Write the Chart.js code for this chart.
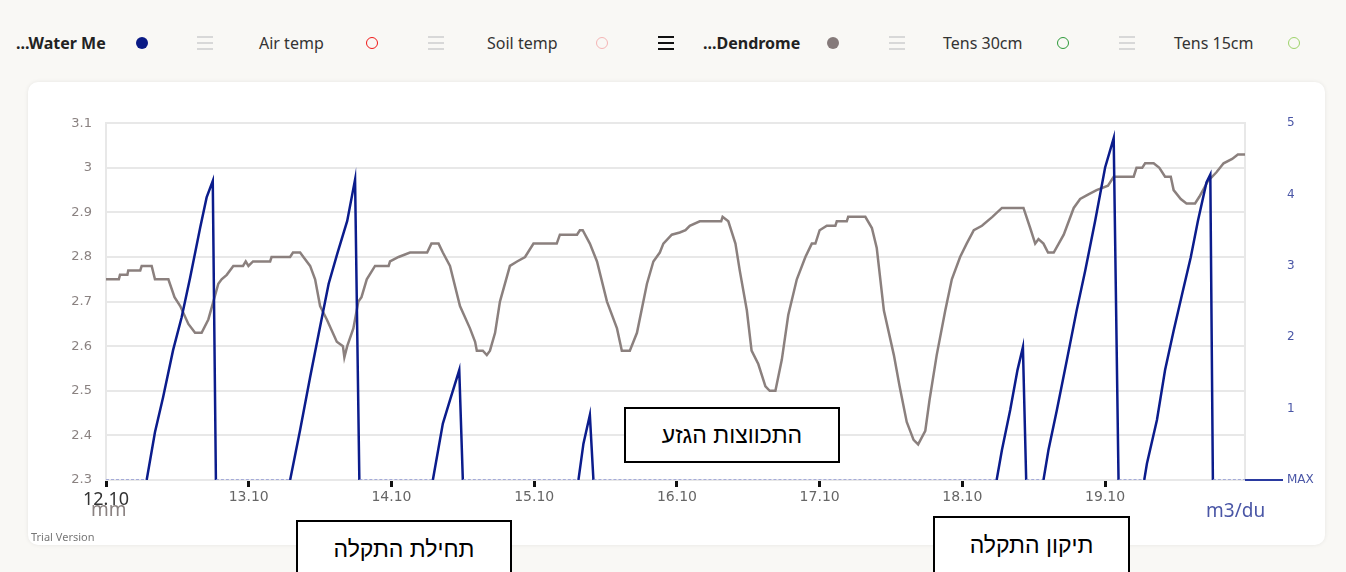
<!DOCTYPE html>
<html>
<head>
<meta charset="utf-8">
<script src="https://cdn.jsdelivr.net/npm/chart.js@4"></script>
<style>
  html, body { margin: 0; padding: 0; }
  body { width: 1346px; height: 572px; background: #f9f8f5; position: relative; overflow: hidden; font-family: "Noto Sans", sans-serif; }
  .lg { position: absolute; top: 31px; font-size: 16px; color: #333; white-space: nowrap; line-height: 24px; }
  .lg.b { font-weight: bold; color: #222; }
  .dot { position: absolute; width: 12px; height: 12px; border-radius: 50%; top: 37px; box-sizing: border-box; }
  .burger { position: absolute; top: 36px; width: 16px; height: 14px; }
  .burger i { display: block; height: 2px; margin-bottom: 4px; background: #d8d8d8; }
  .burger.dark i { background: #111; }
  .card { position: absolute; left: 28px; top: 82px; width: 1297px; height: 463px; background: #fff; border-radius: 10px; box-shadow: 0 0 4px rgba(0,0,0,0.08); }
  #chart { position: absolute; left: 28px; top: 74px; }
  .axis-t { position: absolute; font-size: 19px; }
  .trial { position: absolute; left: 31px; top: 529px; font-size: 11px; color: #777; }
  .note { position: absolute; background: #fff; border: 2px solid #000; box-sizing: border-box; font-family: "Liberation Sans", sans-serif; font-size: 23px; color: #000; text-align: center; direction: rtl; }
</style>
</head>
<body>

<div class="lg b" style="left:16px">...Water Me</div>
<div class="dot" style="left:136px; background:#0a1a85"></div>
<div class="burger" style="left:197px"><i></i><i></i><i></i></div>
<div class="lg" style="left:259px">Air temp</div>
<div class="dot" style="left:366px; border:1.5px solid #f01818"></div>
<div class="burger" style="left:428px"><i></i><i></i><i></i></div>
<div class="lg" style="left:487px">Soil temp</div>
<div class="dot" style="left:596px; border:1.5px solid #f5b5b5"></div>
<div class="burger dark" style="left:658px"><i></i><i></i><i></i></div>
<div class="lg b" style="left:703px">...Dendrome</div>
<div class="dot" style="left:827px; background:#857a7a"></div>
<div class="burger" style="left:889px"><i></i><i></i><i></i></div>
<div class="lg" style="left:943px">Tens 30cm</div>
<div class="dot" style="left:1057px; border:1.5px solid #2e9a3a"></div>
<div class="burger" style="left:1119px"><i></i><i></i><i></i></div>
<div class="lg" style="left:1174px">Tens 15cm</div>
<div class="dot" style="left:1288px; border:1.5px solid #9ed36a"></div>

<div class="card"></div>
<canvas id="chart" width="1297" height="471"></canvas>

<div class="axis-t" style="left:91px; top:496px; color:#8a8281">mm</div>
<div class="axis-t" style="left:1206px; top:497px; color:#4a56a6">m3/du</div>
<div class="trial">Trial Version</div>

<div class="note" style="left:624px; top:407px; width:216px; height:56px; line-height:52px">התכווצות הגזע</div>
<div class="note" style="left:296px; top:520px; width:216px; height:70px; padding-top:14px">תחילת התקלה</div>
<div class="note" style="left:933px; top:516px; width:197px; height:70px; padding-top:14px">תיקון התקלה</div>

<script>
// tick labels for the day axis (x = days since 12.10)
const dayLabels = ['12.10', '13.10', '14.10', '15.10', '16.10', '17.10', '18.10', '19.10'];

// Water meter (m3/du, right axis)
const waterX = [0, 0.285, 0.343, 0.40, 0.47, 0.53, 0.59, 0.66, 0.705, 0.748,
    0.77, 1.29, 1.36, 1.43, 1.49, 1.56, 1.62, 1.69, 1.745, 1.775,
    2.29, 2.36, 2.41, 2.475, 2.50, 3.31, 3.345, 3.39, 3.415, 6.24,
    6.277, 6.335, 6.386, 6.424, 6.447, 6.568, 6.603, 6.662, 6.732, 6.80,
    6.86, 6.93, 7.0, 7.06, 7.094, 7.274, 7.293, 7.363, 7.42, 7.48,
    7.54, 7.60, 7.65, 7.71, 7.737, 7.755, 7.98];
const waterY = [0, 0, 0.67, 1.16, 1.82, 2.28, 2.84, 3.54, 3.96, 4.19,
    0, 0, 0.70, 1.44, 2.05, 2.75, 3.17, 3.63, 4.21, 0,
    0, 0.79, 1.12, 1.54, 0, 0, 0.51, 0.91, 0, 0,
    0.42, 0.98, 1.54, 1.86, 0, 0, 0.42, 0.98, 1.68, 2.37,
    2.93, 3.63, 4.38, 4.79, 0, 0, 0.23, 0.84, 1.54, 2.09,
    2.61, 3.12, 3.63, 4.17, 4.28, 0, 0];

// Dendrometer (mm, left axis)
const dendX = [0, 0.09, 0.098, 0.15, 0.156, 0.24, 0.25, 0.32, 0.343, 0.437,
    0.48, 0.52, 0.577, 0.624, 0.67, 0.717, 0.752, 0.787, 0.81, 0.846,
    0.892, 0.96, 0.979, 0.998, 1.03, 1.15, 1.16, 1.29, 1.31, 1.36,
    1.383, 1.43, 1.465, 1.50, 1.547, 1.617, 1.66, 1.67, 1.69, 1.733,
    1.768, 1.79, 1.827, 1.885, 1.98, 1.99, 2.05, 2.13, 2.25, 2.28,
    2.33, 2.36, 2.41, 2.48, 2.55, 2.586, 2.598, 2.64, 2.668, 2.69,
    2.726, 2.76, 2.83, 2.88, 2.936, 2.995, 3.158, 3.18, 3.30, 3.32,
    3.34, 3.39, 3.44, 3.51, 3.58, 3.614, 3.67, 3.72, 3.79, 3.835,
    3.88, 3.905, 3.964, 4.02, 4.06, 4.09, 4.16, 4.31, 4.32, 4.36,
    4.41, 4.44, 4.49, 4.523, 4.57, 4.62, 4.65, 4.69, 4.735, 4.78,
    4.84, 4.90, 4.945, 4.97, 5.00, 5.05, 5.11, 5.12, 5.19, 5.20,
    5.32, 5.366, 5.40, 5.45, 5.52, 5.56, 5.61, 5.658, 5.69, 5.74,
    5.77, 5.82, 5.88, 5.926, 5.984, 6.03, 6.08, 6.137, 6.21, 6.277,
    6.428, 6.475, 6.51, 6.533, 6.568, 6.60, 6.64, 6.71, 6.78, 6.825,
    6.88, 6.94, 7.02, 7.06, 7.20, 7.22, 7.26, 7.28, 7.34, 7.38,
    7.42, 7.46, 7.48, 7.53, 7.57, 7.63, 7.66, 7.72, 7.78, 7.83,
    7.89, 7.93, 7.98];
const dendY = [2.75, 2.75, 2.76, 2.76, 2.77, 2.77, 2.78, 2.78, 2.75, 2.75,
    2.71, 2.69, 2.65, 2.63, 2.63, 2.66, 2.70, 2.74, 2.75, 2.76,
    2.78, 2.78, 2.79, 2.78, 2.79, 2.79, 2.80, 2.80, 2.81, 2.81,
    2.80, 2.78, 2.75, 2.69, 2.66, 2.61, 2.60, 2.575, 2.60, 2.64,
    2.70, 2.71, 2.75, 2.78, 2.78, 2.79, 2.80, 2.81, 2.81, 2.83,
    2.83, 2.81, 2.78, 2.69, 2.64, 2.61, 2.59, 2.59, 2.58, 2.59,
    2.63, 2.70, 2.78, 2.79, 2.80, 2.83, 2.83, 2.85, 2.85, 2.86,
    2.86, 2.83, 2.79, 2.70, 2.64, 2.59, 2.59, 2.63, 2.74, 2.79,
    2.81, 2.83, 2.85, 2.855, 2.86, 2.87, 2.88, 2.88, 2.89, 2.88,
    2.83, 2.77, 2.68, 2.59, 2.56, 2.51, 2.50, 2.50, 2.57, 2.67,
    2.75, 2.80, 2.83, 2.83, 2.86, 2.87, 2.87, 2.88, 2.88, 2.89,
    2.89, 2.865, 2.82, 2.68, 2.58, 2.51, 2.43, 2.39, 2.38, 2.41,
    2.48, 2.58, 2.68, 2.75, 2.80, 2.83, 2.86, 2.87, 2.89, 2.91,
    2.91, 2.865, 2.83, 2.84, 2.83, 2.81, 2.81, 2.85, 2.91, 2.93,
    2.94, 2.95, 2.96, 2.98, 2.98, 3.00, 3.00, 3.01, 3.01, 3.00,
    2.98, 2.98, 2.95, 2.93, 2.92, 2.92, 2.935, 2.97, 2.99, 3.01,
    3.02, 3.03, 3.03];

const NAVY = '#0b1c8c';
const zeroSeg = ctx => ctx.p0.parsed.y === 0 && ctx.p1.parsed.y === 0;

// short blue stub to the right of the plot at the zero level
const maxStub = {
    id: 'maxStub',
    afterDatasetsDraw(chart) {
        const { ctx, chartArea } = chart;
        const y = chart.scales.y1.getPixelForValue(0);
        ctx.save();
        ctx.strokeStyle = '#2a3aa0';
        ctx.lineWidth = 2;
        ctx.beginPath();
        ctx.moveTo(chartArea.right, y);
        ctx.lineTo(chartArea.right + 38, y);
        ctx.stroke();
        ctx.restore();
    }
};

new Chart(document.getElementById('chart'), {
    type: 'line',
    data: {
        datasets: [
            {
                label: 'Water Meter',
                data: waterX.map((x, i) => ({ x, y: waterY[i] })),
                yAxisID: 'y1',
                borderColor: NAVY,
                borderWidth: 2.5,
                pointRadius: 0,
                tension: 0,
                order: 0,
                segment: {
                    borderColor: ctx => zeroSeg(ctx) ? '#8f97d4' : undefined,
                    borderDash: ctx => zeroSeg(ctx) ? [3, 2] : undefined,
                    borderWidth: ctx => zeroSeg(ctx) ? 1.5 : undefined
                }
            },
            {
                label: 'Dendrometer',
                data: dendX.map((x, i) => ({ x, y: dendY[i] })),
                yAxisID: 'y',
                borderColor: '#8b807e',
                borderWidth: 2.5,
                pointRadius: 0,
                tension: 0,
                order: 1
            }
        ]
    },
    options: {
        responsive: false,
        animation: false,
        layout: { padding: { top: 24, left: 0, right: 0, bottom: 0 } },
        plugins: { legend: { display: false }, tooltip: { enabled: false } },
        scales: {
            x: {
                type: 'linear',
                min: 0,
                max: 7.98,
                afterBuildTicks: s => { s.ticks = s.ticks.filter(t => Number.isInteger(t.value)); },
                afterFit: s => { s.height = 65; },
                ticks: {
                    stepSize: 1,
                    autoSkip: false,
                    maxRotation: 0,
                    padding: 2,
                    callback: v => dayLabels[v],
                    color: c => c.index === 0 ? '#333' : '#666',
                    font: c => c.index === 0 ? { family: 'Noto Sans', size: 18 } : { family: 'DejaVu Sans', size: 14 }
                },
                grid: { drawOnChartArea: false, drawTicks: true, tickLength: 7, tickColor: '#111', tickWidth: 3 },
                border: { display: false }
            },
            y: {
                position: 'left',
                min: 2.3,
                max: 3.1,
                afterFit: s => { s.width = 78; },
                ticks: {
                    stepSize: 0.1,
                    padding: 14,
                    color: '#8a8281',
                    font: { family: 'DejaVu Sans', size: 13 },
                    callback: v => String(Number(v.toFixed(1)))
                },
                grid: { color: '#e8e8e8', lineWidth: 2, drawTicks: false },
                border: { display: true, color: '#e8e8e8', width: 2 }
            },
            y1: {
                position: 'right',
                min: 0,
                max: 5,
                afterFit: s => { s.width = 80; },
                ticks: {
                    stepSize: 1,
                    padding: 42,
                    color: '#4a56a6',
                    font: { family: 'DejaVu Sans', size: 12 },
                    callback: v => v === 0 ? 'MAX' : v
                },
                grid: { drawOnChartArea: false, drawTicks: false },
                border: { display: true, color: '#e8e8e8', width: 2 }
            }
        }
    },
    plugins: [maxStub]
});
</script>
</body>
</html>
